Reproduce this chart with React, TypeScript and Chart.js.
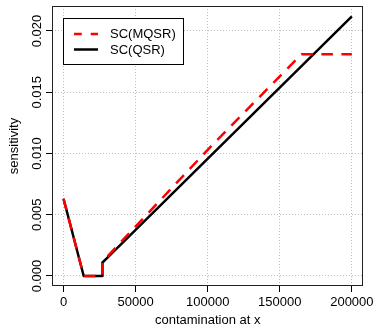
import React, { useEffect, useRef } from "react";
import { Chart, registerables } from "chart.js";

Chart.register(...registerables);

const FONT = '"Liberation Sans", Arial, Helvetica, sans-serif';

// SC(MQSR) – red dashed
const xMQSR = [0, 14000, 27000, 27000, 30500, 100000, 165000, 200000];
const yMQSR = [0.0063, 0, 0, 0.0011, 0.0016, 0.0103, 0.0181, 0.0181];
// SC(QSR) – black solid
const xQSR = [0, 14000, 27000, 27000, 30500, 200000];
const yQSR = [0.0063, 0, 0, 0.0011, 0.0015, 0.0212];

const xTicks = [0, 50000, 100000, 150000, 200000];
const yTicks = [0, 0.005, 0.01, 0.015, 0.02];
const seriesLabels = ["SC(MQSR)", "SC(QSR)"];

const legendPlugin = {
  id: "rLegend",
  afterDraw(chart: any) {
    const { ctx, chartArea } = chart;
    const left = Math.round(chartArea.left + 11) + 0.5;
    const top = Math.round(chartArea.top + 12) + 0.5;
    const w = 120;
    const h = 46;
    ctx.save();
    ctx.fillStyle = "#ffffff";
    ctx.fillRect(left, top, w, h);
    ctx.strokeStyle = "#000";
    ctx.lineWidth = 1;
    ctx.setLineDash([]);
    ctx.strokeRect(left, top, w, h);
    const rows = [
      { y: top + 15.5, color: "#ff0000", dash: [7.7, 9] },
      { y: top + 31, color: "#000000", dash: [] as number[] },
    ];
    rows.forEach((r, i) => {
      ctx.beginPath();
      ctx.strokeStyle = r.color;
      ctx.lineWidth = 2.5;
      ctx.setLineDash(r.dash);
      ctx.moveTo(left + 10.5, r.y);
      ctx.lineTo(left + 34.5, r.y);
      ctx.stroke();
      ctx.setLineDash([]);
      ctx.fillStyle = "#000";
      ctx.font = `13px ${FONT}`;
      ctx.textAlign = "left";
      ctx.textBaseline = "middle";
      ctx.fillText(seriesLabels[i], left + 46.5, r.y + 0.5);
    });
    ctx.restore();
  },
};

const boxPlugin = {
  id: "rBox",
  afterDatasetsDraw(chart: any) {
    const { ctx, chartArea } = chart;
    ctx.save();
    ctx.strokeStyle = "#222";
    ctx.lineWidth = 1;
    ctx.setLineDash([]);
    ctx.strokeRect(
      Math.round(chartArea.left) + 0.5,
      Math.round(chartArea.top) + 0.5,
      Math.round(chartArea.right - chartArea.left) - 1,
      Math.round(chartArea.bottom - chartArea.top) - 1
    );
    ctx.restore();
  },
};

export default function App() {
  const ref = useRef<HTMLCanvasElement>(null);
  useEffect(() => {
    if (!ref.current) return;
    const gridCommon = {
      color: "#bdbdbd",
      lineWidth: 1,
      tickColor: "#000",
      tickLength: 6,
      tickWidth: 1,
      tickBorderDash: [],
      drawTicks: true,
    };
    const borderCommon = { display: false, dash: [1, 2], dashOffset: 0 };
    const chart = new Chart(ref.current, {
      type: "scatter",
      data: {
        datasets: [
          {
            label: seriesLabels[0],
            data: xMQSR.map((x, i) => ({ x, y: yMQSR[i] })),
            showLine: true,
            borderColor: "#ff0000",
            backgroundColor: "#ff0000",
            borderWidth: 2.5,
            borderDash: [11.5, 8.5],
            borderJoinStyle: "round",
            pointRadius: 0,
            tension: 0,
          },
          {
            label: seriesLabels[1],
            data: xQSR.map((x, i) => ({ x, y: yQSR[i] })),
            showLine: true,
            borderColor: "#000000",
            backgroundColor: "#000000",
            borderWidth: 2.5,
            borderJoinStyle: "round",
            pointRadius: 0,
            tension: 0,
          },
        ],
      },
      options: {
        responsive: false,
        animation: false,
        layout: { padding: { top: 6, right: 12, left: 0, bottom: 0 } },
        plugins: {
          legend: { display: false },
          tooltip: { enabled: false },
        },
        scales: {
          x: {
            type: "linear",
            min: -8000,
            max: 208000,
            afterBuildTicks: (s: any) => {
              s.ticks = xTicks.map((v) => ({ value: v }));
            },
            afterFit: (s: any) => {
              s.height = 41;
            },
            border: borderCommon,
            grid: gridCommon,
            ticks: {
              color: "#000",
              font: { family: FONT, size: 13 },
              padding: 3,
              maxRotation: 0,
              autoSkip: false,
              callback: (v: any) => String(v),
            },
            title: {
              display: true,
              text: "contamination at x",
              color: "#000",
              font: { family: FONT, size: 13 },
              padding: { top: 0, bottom: -1 },
            },
          },
          y: {
            type: "linear",
            min: -0.00082,
            max: 0.02204,
            afterBuildTicks: (s: any) => {
              s.ticks = yTicks.map((v) => ({ value: v }));
            },
            afterFit: (s: any) => {
              s.width = 52;
            },
            border: borderCommon,
            grid: gridCommon,
            ticks: {
              color: "#000",
              font: { family: FONT, size: 13 },
              padding: -8,
              minRotation: 90,
              maxRotation: 90,
              crossAlign: "center",
              autoSkip: false,
              callback: (v: any) => Number(v).toFixed(3),
            },
            title: {
              display: true,
              text: "sensitivity",
              color: "#000",
              font: { family: FONT, size: 13 },
              padding: { top: 7, bottom: 0 },
            },
          },
        },
      },
      plugins: [boxPlugin, legendPlugin],
    } as any);
    return () => chart.destroy();
  }, []);
  return (
    <canvas
      ref={ref}
      width={377}
      height={327}
      style={{ position: "absolute", left: 0, top: 0, display: "block", width: 377, height: 327 }}
    />
  );
}
